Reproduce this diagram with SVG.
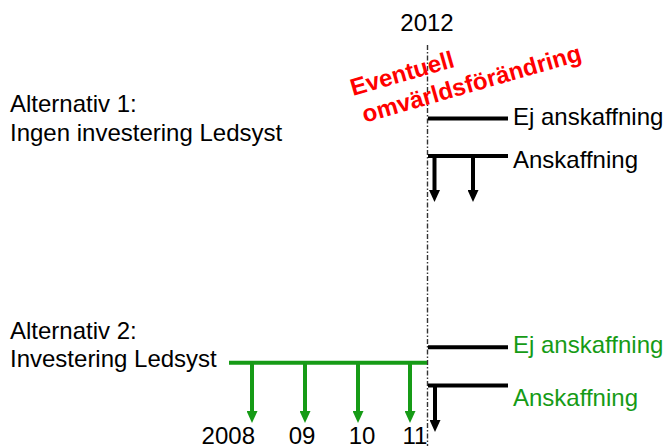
<svg xmlns="http://www.w3.org/2000/svg" width="666" height="446" viewBox="0 0 666 446">
  <style>
    text { font-family: "Liberation Sans", Arial, sans-serif; font-size: 24px; fill: #000; }
    .green { fill: #169b16; }
    .red { fill: #ff0000; font-weight: bold; }
    .bar { stroke: #000; stroke-width: 4; fill: none; }
    .gbar { stroke: #169b16; stroke-width: 4; fill: none; }
    .shaft { stroke: #000; stroke-width: 4; marker-end: url(#ah-black); }
    .gshaft { stroke: #169b16; stroke-width: 4; marker-end: url(#ah-green); }
    .timeline { stroke: #333; stroke-width: 1.4; stroke-dasharray: 5 2 1.5 2; fill: none; }
  </style>
  <defs>
    <marker id="ah-black" viewBox="0 0 12 11" markerWidth="12" markerHeight="11" refX="0" refY="5.5" orient="auto" markerUnits="userSpaceOnUse">
      <path d="M0,0 L12,5.5 L0,11 z" fill="#000"/>
    </marker>
    <marker id="ah-green" viewBox="0 0 12 11" markerWidth="12" markerHeight="11" refX="0" refY="5.5" orient="auto" markerUnits="userSpaceOnUse">
      <path d="M0,0 L12,5.5 L0,11 z" fill="#169b16"/>
    </marker>
  </defs>

  <!-- decision point in 2012 -->
  <g id="year-2012">
    <text x="427" y="31" text-anchor="middle">2012</text>
    <line class="timeline" x1="427.5" y1="45" x2="427.5" y2="446"/>
  </g>

  <g id="world-change" transform="translate(353,96) rotate(-16)">
    <text class="red" x="0" y="0">Eventuell</text>
    <text class="red" x="4" y="29">omvärldsförändring</text>
  </g>

  <!-- alternative 1 -->
  <g id="alt1">
    <text x="10" y="112">Alternativ 1:</text>
    <text x="10" y="141">Ingen investering Ledsyst</text>
  </g>
  <g id="alt1-no-purchase">
    <text x="513" y="125">Ej anskaffning</text>
  </g>
  <g id="alt1-purchase">
    <text x="513" y="168">Anskaffning</text>
  </g>

  <!-- alternative 2 -->
  <g id="alt2">
    <text x="10" y="339">Alternativ 2:</text>
    <text x="10" y="367">Investering Ledsyst</text>
  </g>
  <g id="alt2-no-purchase">
    <text class="green" x="513" y="353">Ej anskaffning</text>
  </g>
  <g id="alt2-purchase">
    <text class="green" x="513" y="406">Anskaffning</text>
  </g>
  <g id="years">
    <text x="255" y="444" text-anchor="end">2008</text>
    <text x="302" y="444" text-anchor="middle">09</text>
    <text x="362" y="444" text-anchor="middle">10</text>
    <text x="415" y="444" text-anchor="middle">11</text>
  </g>

  <g id="connectors">
    <!-- alternative 1 branches -->
    <line class="bar" x1="428" y1="118.5" x2="508" y2="118.5"/>
    <line class="bar" x1="428" y1="156" x2="508" y2="156"/>
    <line class="shaft" x1="434.5" y1="154" x2="434.5" y2="190"/>
    <line class="shaft" x1="473" y1="154" x2="473" y2="190"/>
    <!-- alternative 2 investment payments -->
    <line class="gbar" x1="229" y1="362.7" x2="427" y2="362.7"/>
    <line class="gshaft" x1="252" y1="361" x2="252" y2="411"/>
    <line class="gshaft" x1="305" y1="361" x2="305" y2="411"/>
    <line class="gshaft" x1="358" y1="361" x2="358" y2="411"/>
    <line class="gshaft" x1="410" y1="361" x2="410" y2="411"/>
    <!-- alternative 2 branches -->
    <line class="bar" x1="428" y1="347.3" x2="508" y2="347.3"/>
    <line class="bar" x1="428" y1="385.5" x2="508" y2="385.5"/>
    <line class="shaft" x1="435" y1="384" x2="435" y2="420"/>
  </g>
</svg>
